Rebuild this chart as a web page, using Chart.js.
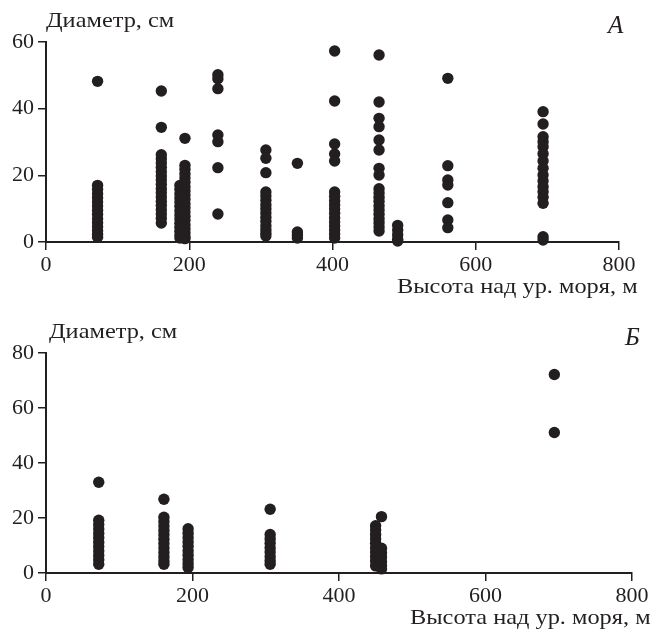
<!DOCTYPE html>
<html>
<head>
<meta charset="utf-8">
<script src="https://cdn.jsdelivr.net/npm/chart.js@4.4.1/dist/chart.umd.min.js"></script>
<style>
    html, body { margin: 0; padding: 0; background: #fff; }
    #wrapA { position: absolute; left: 0; top: 0; width: 655px; height: 305px; }
    #wrapB { position: absolute; left: 0; top: 305px; width: 655px; height: 324px; }
</style>
</head>
<body>
<div id="wrapA"><canvas id="chartA" width="655" height="305"></canvas></div>
<div id="wrapB"><canvas id="chartB" width="655" height="324"></canvas></div>
<script>
// Панель А: высота над ур. моря (м) и диаметры (см) в каждой точке
var altitudesA = [72, 161, 187, 194, 240, 307, 351, 403, 465, 491, 561, 694];
var a72  = [48.2, 17, 15.8, 14.5, 13.3, 12, 10.8, 9.5, 8.3, 7, 5.8, 4.6, 3.4, 2.3, 1.4];
var a161 = [45.3, 34.4, 26.2, 25, 23.7, 22.4, 21.1, 19.8, 18.6, 17.3, 16, 14.8, 13.5, 12.2, 11, 9.7, 8.4, 7.1, 5.7];
var a187 = [17, 15.8, 14.5, 13.2, 12, 10.7, 9.4, 8.1, 6.9, 5.6, 4.4, 3.2, 2.1, 1.2];
var a194 = [31.1, 23, 21.8, 20.5, 19.2, 17.9, 16.6, 15.4, 14.1, 12.8, 11.5, 10.3, 9, 7.7, 6.5, 5.2, 4, 2.8, 1.6, 1];
var a240 = [50.2, 49, 46, 32.1, 30.1, 22.3, 8.4];
var a307 = [27.6, 25.1, 20.8, 15, 13.8, 12.5, 11.2, 10, 8.7, 7.4, 6.2, 4.9, 3.7, 2.6, 1.8];
var a351 = [23.6, 3, 2.1, 1.2];
var a403 = [57.3, 42.3, 29.4, 26.4, 24.3, 15, 13.7, 12.4, 11.1, 9.9, 8.6, 7.3, 6, 4.8, 3.6, 2.4, 1.2];
var a465 = [56.1, 42, 37.1, 34.6, 30.6, 27.6, 22.1, 20.1, 16, 14.7, 13.4, 12.2, 10.9, 9.6, 8.3, 7, 5.8, 4.5, 3.3];
var a491 = [5, 3.6, 2.2, 0.8, 0.3];
var a561 = [49.1, 22.9, 18.6, 17.1, 11.8, 6.6, 4.3];
var a694 = [39.1, 35.4, 31.6, 30.1, 28.6, 26.5, 24.3, 22.1, 20.1, 18.3, 16.6, 15.1, 13.4, 11.6, 1.6, 0.6];
var diametersA = [a72, a161, a187, a194, a240, a307, a351, a403, a465, a491, a561, a694];

// Панель Б
var altitudesB = [72, 161, 194, 306, 450, 458, 694];
var b72  = [33, 19.2, 17.6, 16, 14.4, 12.8, 11.2, 9.6, 8, 6.4, 4.8, 3.2];
var b161 = [26.8, 20.3, 18.7, 17.1, 15.5, 13.9, 12.3, 10.7, 9.1, 7.5, 5.9, 4.4, 3.2];
var b194 = [16.1, 14.5, 12.9, 11.3, 9.7, 8.1, 6.5, 4.9, 3.4, 2];
var b306 = [23.2, 14, 12.4, 10.8, 9.2, 7.6, 6, 4.5, 3.2];
var b450 = [17.2, 15.6, 14, 12.4, 10.8, 9.2, 7.6, 6, 4.4, 2.6];
var b458 = [20.5, 9, 7.4, 5.8, 4.2, 2.6, 1.5];
var b694 = [72.2, 51.1];
var diametersB = [b72, b161, b194, b306, b450, b458, b694];

var xTicks = [0, 200, 400, 600, 800];
var yTicksA = [0, 20, 40, 60];
var yTicksB = [0, 20, 40, 60, 80];

var ink = '#231f20';
var serif = '"Liberation Serif", "Times New Roman", serif';

function toPoints(alts, cols) {
    var pts = [];
    alts.forEach(function (x, i) {
        cols[i].forEach(function (y) { pts.push({ x: x, y: y }); });
    });
    return pts;
}

// подписи осей и букв панелей
function textPlugin(items) {
    return {
        id: 'panelText',
        afterDraw: function (chart) {
            var ctx = chart.ctx;
            items.forEach(function (t) {
                ctx.save();
                ctx.font = (t.italic ? 'italic ' : '') + t.size + 'px ' + serif;
                ctx.fillStyle = ink;
                ctx.textBaseline = 'alphabetic';
                ctx.textAlign = 'left';
                ctx.translate(t.x, t.y);
                ctx.scale(t.stretch || 1, 1);
                ctx.fillText(t.text, 0, 0);
                ctx.restore();
            });
        }
    };
}

function makeChart(id, points, yTicks, box, texts) {
    var ctx = document.getElementById(id).getContext('2d');
    return new Chart(ctx, {
        type: 'scatter',
        data: {
            datasets: [{
                data: points,
                backgroundColor: ink,
                borderWidth: 0,
                pointRadius: 5.7,
                pointHoverRadius: 5.7,
                clip: false
            }]
        },
        options: {
            responsive: false,
            animation: false,
            layout: { padding: { left: 0, top: box.top, right: box.right, bottom: 0 } },
            plugins: { legend: { display: false }, tooltip: { enabled: false } },
            scales: {
                x: {
                    type: 'linear',
                    min: xTicks[0],
                    max: xTicks[xTicks.length - 1],
                    afterFit: function (s) { s.height = box.xHeight; },
                    afterBuildTicks: function (s) { s.ticks = xTicks.map(function (v) { return { value: v }; }); },
                    grid: { display: true, drawOnChartArea: false, drawTicks: true, tickLength: 8, color: ink, lineWidth: 1.5 },
                    border: { display: true, color: ink, width: 2 },
                    ticks: { color: ink, padding: 2, maxRotation: 0, font: { family: serif, size: 22 } }
                },
                y: {
                    type: 'linear',
                    min: yTicks[0],
                    max: yTicks[yTicks.length - 1],
                    afterFit: function (s) { s.width = box.left; },
                    afterBuildTicks: function (s) { s.ticks = yTicks.map(function (v) { return { value: v }; }); },
                    grid: { display: true, drawOnChartArea: false, drawTicks: true, tickLength: 8, color: ink, lineWidth: 1.5 },
                    border: { display: true, color: ink, width: 2 },
                    ticks: { color: ink, padding: 4, font: { family: serif, size: 22 } }
                }
            }
        },
        plugins: [textPlugin(texts)]
    });
}

makeChart('chartA', toPoints(altitudesA, diametersA), yTicksA,
    { left: 46, top: 42, right: 36, xHeight: 63 },
    [
        { text: 'Диаметр, см', x: 46, y: 27, size: 21, stretch: 1.16 },
        { text: 'А', x: 608, y: 33, size: 25, italic: true },
        { text: 'Высота над ур. моря, м', x: 397, y: 293, size: 21, stretch: 1.16 }
    ]);

makeChart('chartB', toPoints(altitudesB, diametersB), yTicksB,
    { left: 46, top: 48, right: 23, xHeight: 56 },
    [
        { text: 'Диаметр, см', x: 49, y: 33, size: 21, stretch: 1.16 },
        { text: 'Б', x: 625, y: 40, size: 25, italic: true },
        { text: 'Высота над ур. моря, м', x: 410, y: 319, size: 21, stretch: 1.16 }
    ]);
</script>
</body>
</html>
